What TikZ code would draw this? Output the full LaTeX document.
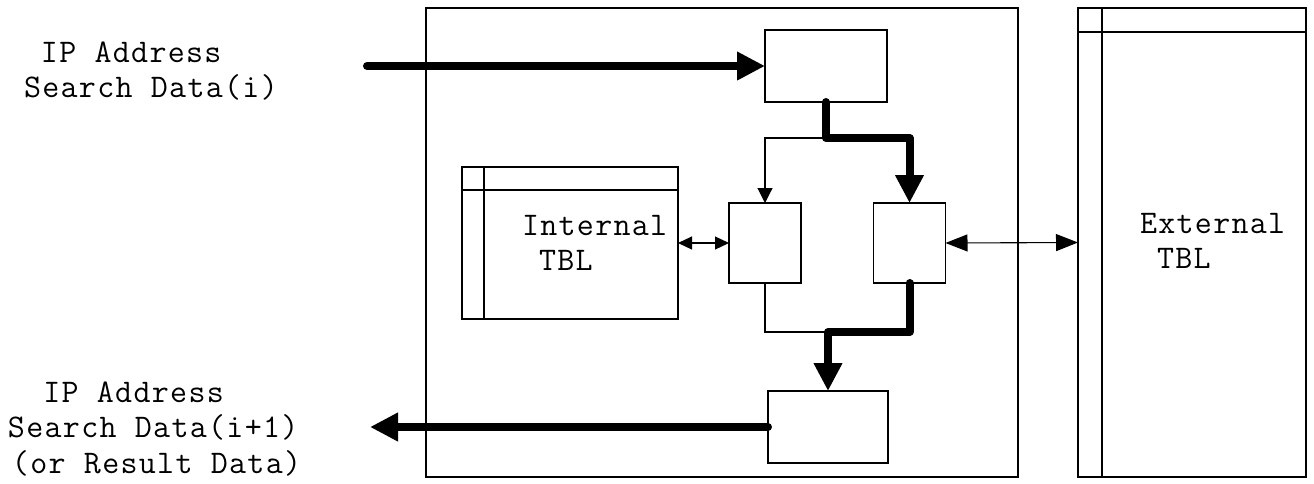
\documentclass[tikz,border=0pt]{standalone}
\usepackage{fontspec}
\usetikzlibrary{arrows.meta}
\newfontfamily\diagtt{Latin Modern Mono}[LetterSpace=4]
\begin{document}
\begin{tikzpicture}[x=1pt,y=-1pt,
  box/.style={draw,line width=1.1pt,rectangle,inner sep=0pt,outer sep=0pt},
  thickarr/.style={line width=8pt,line join=round,line cap=round,-{Triangle[length=28pt,width=27pt]}},
  thinarr/.style={line width=1.1pt,-{Triangle[length=15pt,width=15pt]}},
  thinline/.style={line width=1.1pt},
  intarr/.style={line width=1.1pt,{Triangle[length=14pt,width=13pt]}-{Triangle[length=14pt,width=13pt]}},
  extarr/.style={line width=1.1pt,{Triangle[length=22pt,width=17pt]}-{Triangle[length=22pt,width=17pt]}},
  lbl/.style={inner sep=0pt,outer sep=0pt,anchor=base west,font=\diagtt\fontsize{33}{35.5}\selectfont}]
\useasboundingbox (0,0) rectangle (1314,483);

% boxes
\node[box,minimum width=592pt,minimum height=469pt] (big) at (722,242.5) {};
\node[box,minimum width=122pt,minimum height=72pt] (T) at (826,66) {};
\node[box,minimum width=72pt,minimum height=80pt] (A) at (765,243) {};
\node[box,minimum width=72pt,minimum height=80pt] (B) at (909.5,243) {};
\node[box,minimum width=120pt,minimum height=72pt] (C) at (828,427) {};
\node[box,minimum width=216pt,minimum height=152pt] (itbl) at (570,243) {};
\node[box,minimum width=228pt,minimum height=469pt] (etbl) at (1192,242.5) {};

% table inner lines
\draw[thinline] (484,167) -- (484,319);
\draw[thinline] (462,190) -- (678,190);
\draw[thinline] (1102,8) -- (1102,477);
\draw[thinline] (1078,32) -- (1306,32);

% labels
\node[lbl] (intext) at (522,235) {\begin{tabular}[t]{@{}l@{}}Internal\\\hphantom{x}TBL\end{tabular}};
\node[lbl] (extext) at (1140,233) {\begin{tabular}[t]{@{}l@{}}External\\\hphantom{x}TBL\end{tabular}};
\node[lbl] (intxt) at (24,62) {\begin{tabular}[t]{@{}l@{}}\hphantom{x}IP Address\\Search Data(i)\end{tabular}};
\node[lbl] (outtxt) at (8,402) {\begin{tabular}[t]{@{}l@{}}\hphantom{xx}IP Address\\Search Data(i+1)\\\hspace{4pt}(or Result Data)\end{tabular}};

% junctions and free ends
\coordinate (inS) at (367,66);
\coordinate (outE) at (370,427);
\coordinate (j1) at (826,138);
\coordinate (j2) at (828,332);

% thin connectors
\draw[thinarr] (j1) -| (A.north);
\draw[thinline] (A.south) |- (j2);
\draw[intarr] (itbl.east) -- (A.west);
\draw[extarr] (B.east) -- (etbl.west);

% thick connectors
\draw[thickarr] (inS) -- (T.west);
\draw[thickarr] (T.south) -- (j1) -| (B.north);
\draw[thickarr] (B.south) |- (j2) -- (C.north);
\draw[thickarr] (C.west) -- (outE);
\end{tikzpicture}
\end{document}
